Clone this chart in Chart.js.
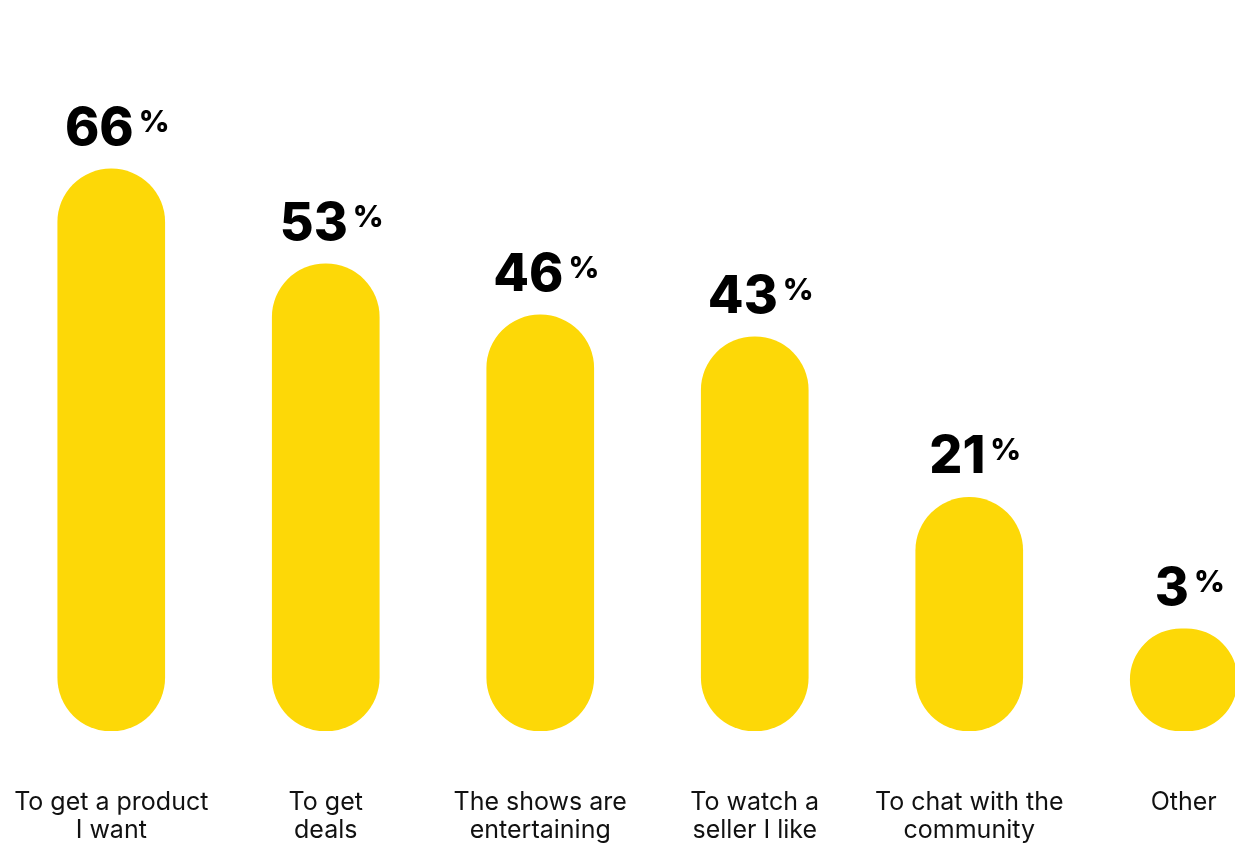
<!DOCTYPE html>
<html>
<head>
<meta charset="utf-8">
<script src="https://cdn.jsdelivr.net/npm/chart.js@4.4.1/dist/chart.umd.min.js"></script>
<style>
    html, body { margin: 0; padding: 0; background: #fff; overflow: hidden; }
    #wrap { position: relative; width: 1295px; height: 846px; }
</style>
</head>
<body>
<div id="wrap"><canvas id="reasons_chart"></canvas></div>
<script>
// Reasons for watching live shopping (% of respondents)
const categories = [
    ['To get a product', 'I want'],
    ['To get', 'deals'],
    ['The shows are', 'entertaining'],
    ['To watch a', 'seller I like'],
    ['To chat with the', 'community'],
    ['Other']
];
const shares = [66, 53, 46, 43, 21, 3];

const barYellow = '#FDD807';
const fontFamily = 'Inter, "Open Sans", sans-serif';

// Draws the big "66%" style labels above each bar
const valueLabels = {
    id: 'valueLabels',
    afterDatasetsDraw(chart) {
        const ctx = chart.ctx;
        const meta = chart.getDatasetMeta(0);
        ctx.save();
        ctx.fillStyle = '#000';
        ctx.textBaseline = 'alphabetic';
        ctx.textAlign = 'left';
        meta.data.forEach(function(bar, i) {
            const num = String(shares[i]);
            ctx.font = '800 52px ' + fontFamily;
            const wNum = ctx.measureText(num).width;
            ctx.font = '800 30px ' + fontFamily;
            const wPct = ctx.measureText('%').width;
            const gap = 5;
            const start = bar.x + 6 - (wNum + gap + wPct) / 2;
            const baseline = bar.y - 24;
            ctx.font = '800 52px ' + fontFamily;
            ctx.fillText(num, start, baseline);
            ctx.font = '800 30px ' + fontFamily;
            ctx.fillText('%', start + wNum + gap, baseline - 13);
        });
        ctx.restore();
    }
};

const ctx = document.getElementById('reasons_chart').getContext('2d');
new Chart(ctx, {
    type: 'bar',
    data: {
        labels: categories,
        datasets: [{
            data: shares,
            base: -11,
            backgroundColor: barYellow,
            borderRadius: 60,
            borderSkipped: false,
            barThickness: 107
        }]
    },
    options: {
        responsive: true,
        maintainAspectRatio: false,
        animation: false,
        layout: {
            padding: { left: 4, right: 4, top: 74, bottom: 2 }
        },
        plugins: {
            legend: { display: false },
            tooltip: { enabled: false }
        },
        scales: {
            x: {
                grid: { display: false, drawTicks: false },
                border: { display: false },
                ticks: {
                    color: '#111',
                    padding: 58,
                    maxRotation: 0,
                    autoSkip: false,
                    font: { family: fontFamily, size: 25, lineHeight: 1.1 }
                },
                afterFit: function(scale) {
                    // keep the wide tick padding from pushing the bars sideways
                    scale.paddingLeft = 0;
                    scale.paddingRight = 0;
                    scale.height = 113;
                }
            },
            y: {
                display: false,
                min: -11,
                max: 79
            }
        }
    },
    plugins: [valueLabels]
});
</script>
</body>
</html>
